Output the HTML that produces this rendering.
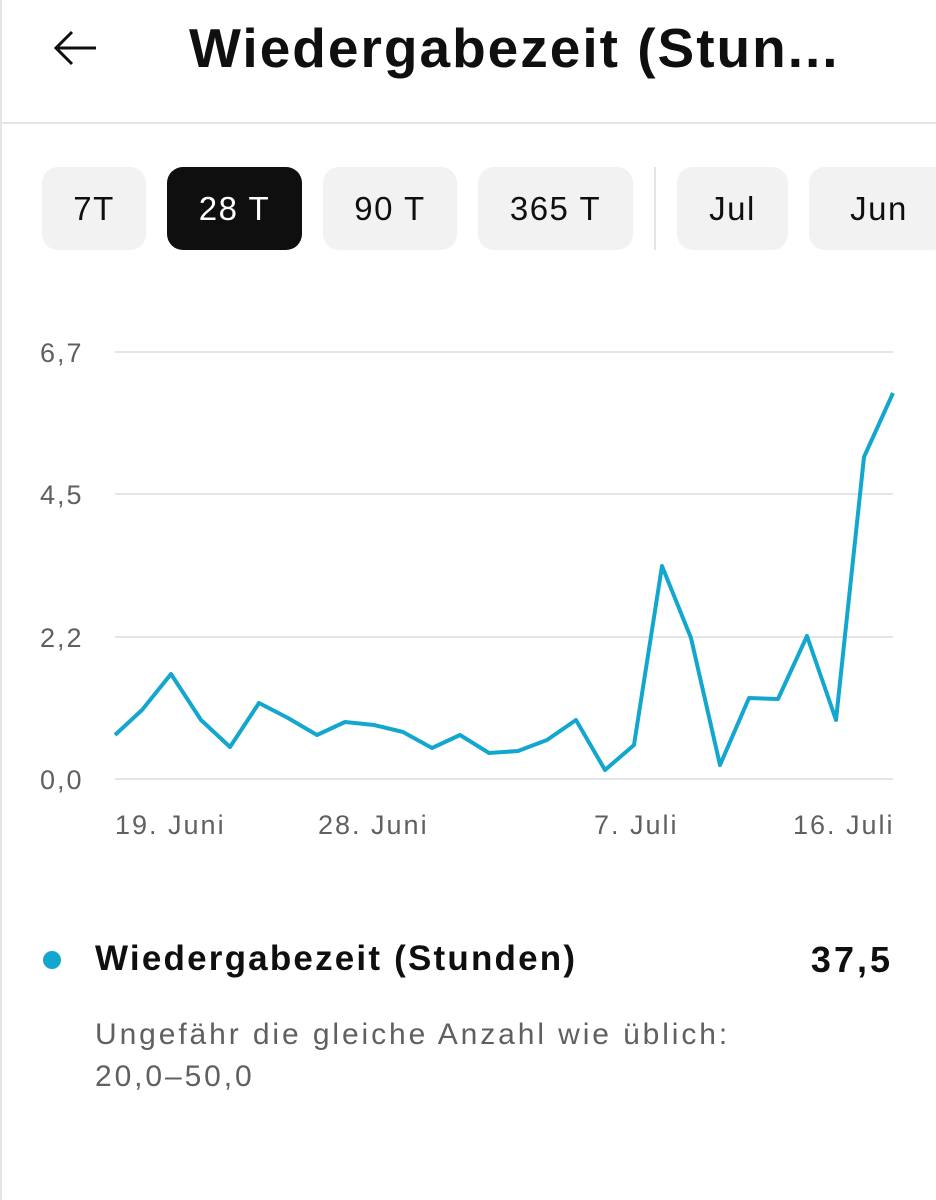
<!DOCTYPE html>
<html><head><meta charset="utf-8"><style>
body{margin:0;width:936px;height:1200px;background:#fff;font-family:"Liberation Sans",sans-serif;position:relative;overflow:hidden}
.t{position:absolute;white-space:nowrap}
.btn{position:absolute;top:167px;height:83px;background:#f2f2f2;border-radius:16px;font-size:33px;letter-spacing:1.5px;color:#0f0f0f;display:flex;align-items:center;justify-content:center}
</style></head><body>
<div style="position:absolute;left:0;top:0;width:2px;height:1200px;background:#e5e5e5"></div>
<svg class="t" style="left:50px;top:28px" width="50" height="40"><path d="M46 20H6M22 4L6 20L22 36" stroke="#0f0f0f" stroke-width="3" fill="none"/></svg>
<div class="t" style="left:189px;top:16px;font-size:55px;letter-spacing:2px;font-weight:bold;color:#0f0f0f">Wiedergabezeit (Stun...</div>
<div style="position:absolute;left:0;top:122px;width:936px;height:2px;background:#e5e5e5"></div>
<div class="btn" style="left:42px;width:104px">7T</div>
<div class="btn" style="left:167px;width:135px;background:#0f0f0f;color:#fff">28 T</div>
<div class="btn" style="left:323px;width:134px">90 T</div>
<div class="btn" style="left:478px;width:155px">365 T</div>
<div style="position:absolute;left:654px;top:167px;width:2px;height:83px;background:#e5e5e5"></div>
<div class="btn" style="left:677px;width:111px">Jul</div>
<div class="btn" style="left:809px;width:140px">Jun</div>
<svg class="t" style="left:0;top:0" width="936" height="900">
<g stroke="#e5e5e5" stroke-width="2"><line x1="115" x2="893" y1="352" y2="352"/><line x1="115" x2="893" y1="494" y2="494"/><line x1="115" x2="893" y1="637" y2="637"/><line x1="115" x2="893" y1="779" y2="779"/></g>
<g font-size="27" fill="#606060" font-family="Liberation Sans" letter-spacing="2"><text x="40" y="362">6,7</text><text x="40" y="504">4,5</text><text x="40" y="647">2,2</text><text x="40" y="789">0,0</text>
<text x="115" y="834">19. Juni</text><text x="318" y="834">28. Juni</text><text x="594" y="834">7. Juli</text><text x="793" y="834">16. Juli</text></g>
<polyline fill="none" stroke="#13a7cf" stroke-width="4" stroke-linejoin="round" points="115,735 142,710 171,674 201,720 230,747 259,703 288,718 317,735 345,722 374,725 403,732 432,748 460,735 489,753 518,751 547,740 576,720 605,770 634,745 662,566 691,638 720,765 749,698 778,699 807,636 836,720 864,457 893,393"/>
</svg>
<div style="position:absolute;left:43px;top:951px;width:18px;height:18px;border-radius:50%;background:#13a7cf"></div>
<div class="t" style="left:95px;top:939px;font-size:35px;letter-spacing:2.2px;font-weight:bold;color:#0f0f0f">Wiedergabezeit (Stunden)</div>
<div class="t" style="right:43px;top:939px;font-size:36px;letter-spacing:3px;font-weight:bold;color:#0f0f0f">37,5</div>
<div class="t" style="left:95px;top:1014px;font-size:30px;letter-spacing:2.9px;color:#606060;line-height:42px">Ungefähr die gleiche Anzahl wie üblich:<br>20,0–50,0</div>
</body></html>
